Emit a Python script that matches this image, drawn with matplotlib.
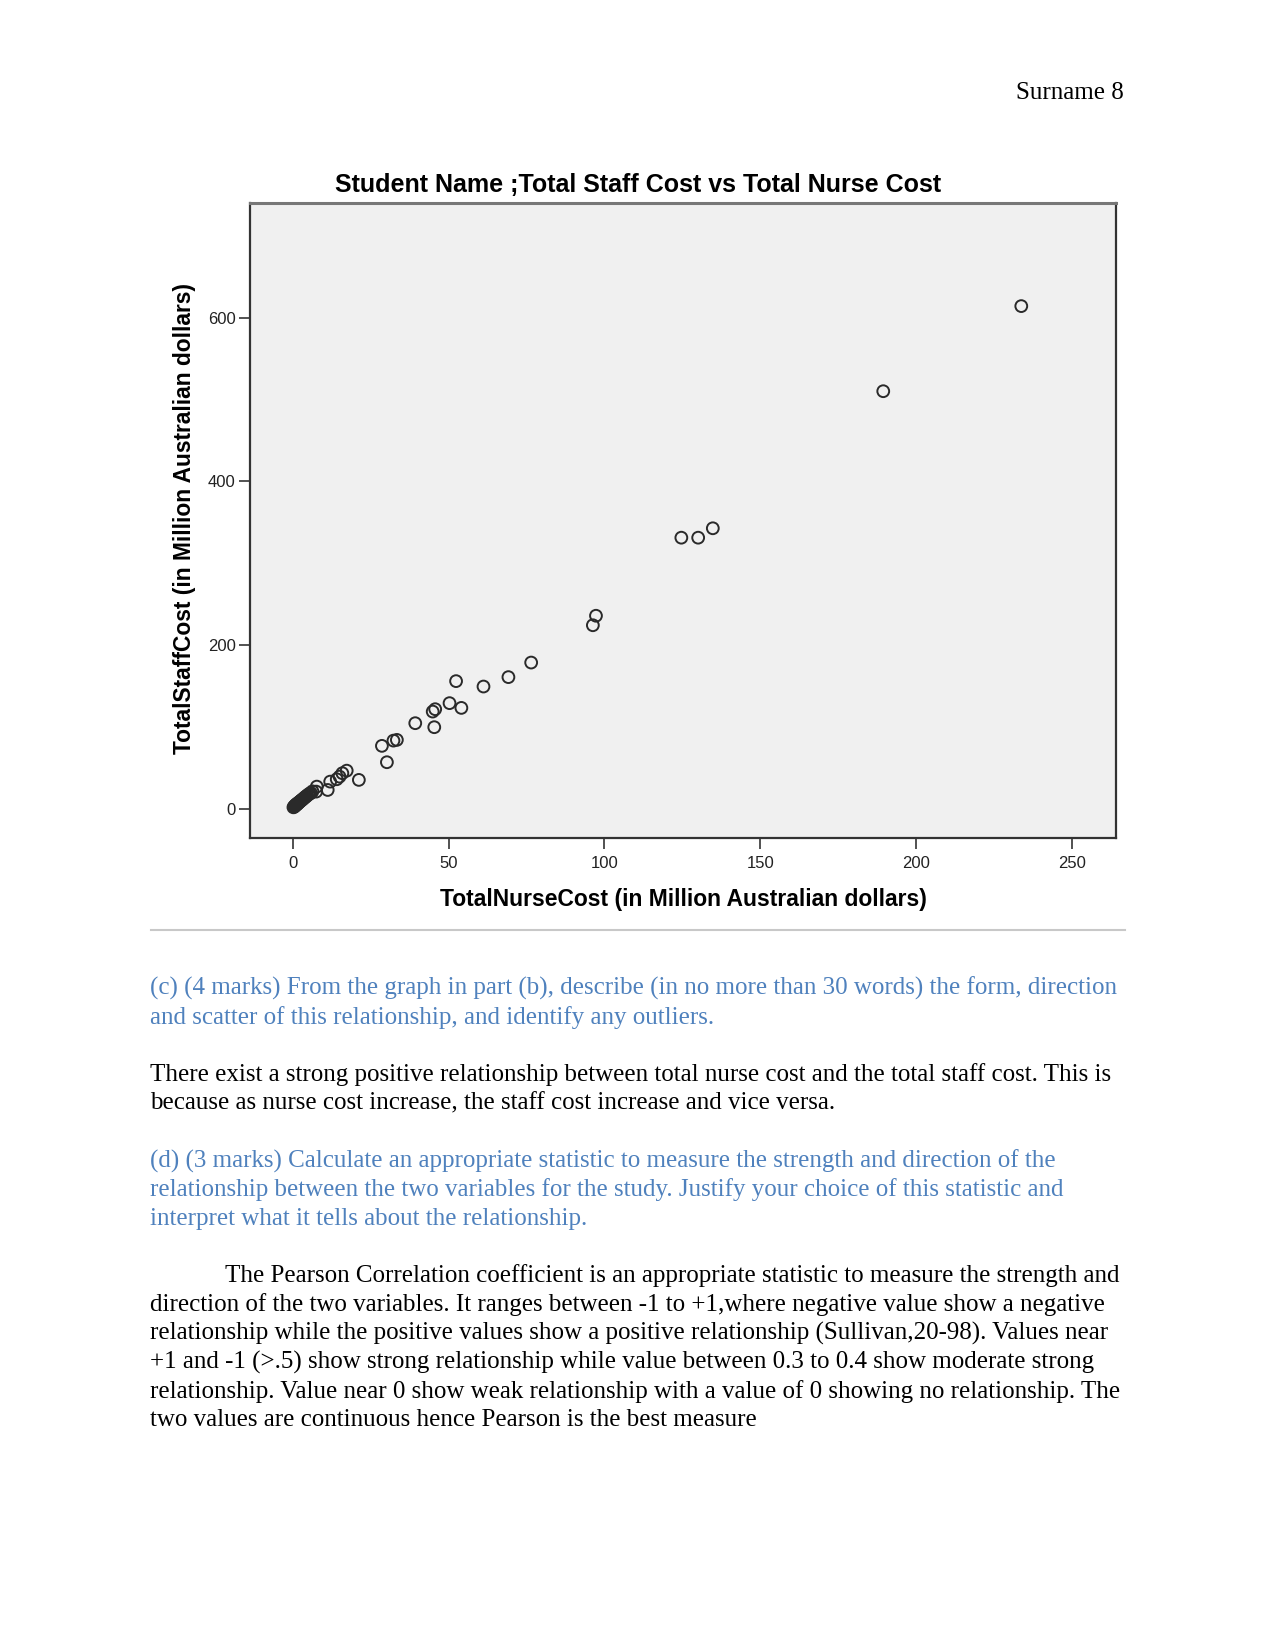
import matplotlib
matplotlib.use("Agg")
import matplotlib.pyplot as plt

# TotalNurseCost vs TotalStaffCost (million AUD)
nurse_cost = [
    0.2, 0.4, 0.5, 0.7, 0.8, 1.0, 1.1, 1.3, 1.5, 1.6, 1.8, 2.0, 2.2, 2.4, 2.6,
    2.9, 3.1, 3.4, 3.7, 4.0, 4.3, 4.6, 5.0, 5.4, 5.8, 6.3,
    7.5, 7.7, 11.2, 12.0, 14.1, 15.0, 15.9, 17.3, 21.2,
    28.6, 30.2, 32.3, 33.4, 39.3, 45.4, 44.9, 45.7, 50.3, 54.1, 52.4, 61.2, 69.2, 76.5,
    96.3, 97.3, 124.7, 130.1, 134.8, 189.5, 233.8,
]
staff_cost = [
    1.5, 2.0, 2.8, 3.0, 4.1, 4.0, 5.2, 5.0, 6.3, 5.9, 7.0, 7.8, 8.1, 9.0, 9.5,
    10.6, 11.0, 12.1, 13.0, 14.2, 14.8, 16.0, 17.1, 18.3, 19.0, 21.0,
    20.7, 26.8, 22.7, 32.9, 35.8, 39.0, 43.2, 46.3, 35.0,
    76.6, 56.6, 83.0, 83.9, 104.3, 99.4, 118.5, 121.4, 128.8, 123.0, 155.7, 149.1, 160.6, 178.4,
    224.0, 235.6, 331.0, 331.0, 342.5, 510.0, 614.0,
]
x_ticks = [0, 50, 100, 150, 200, 250]
y_ticks = [0, 200, 400, 600]

question_c = [
    "(c) (4 marks) From the graph in part (b), describe (in no more than 30 words) the form, direction",
    "and scatter of this relationship, and identify any outliers.",
]
answer_c = [
    "There exist a strong positive relationship between total nurse cost and the total staff cost. This is",
    "because as nurse cost increase, the staff cost increase and vice versa.",
]
question_d = [
    "(d) (3 marks) Calculate an appropriate statistic to measure the strength and direction of the",
    "relationship between the two variables for the study. Justify your choice of this statistic and",
    "interpret what it tells about the relationship.",
]
answer_d = [
    "The Pearson Correlation coefficient is an appropriate statistic to measure the strength and",
    "direction of the two variables. It ranges between -1 to +1,where negative value show a negative",
    "relationship while the positive values show a positive relationship (Sullivan,20-98). Values near",
    "+1 and -1 (>.5) show strong relationship while value between 0.3 to 0.4 show moderate strong",
    "relationship. Value near 0 show weak relationship with a value of 0 showing no relationship. The",
    "two values are continuous hence Pearson is the best measure",
]

W, H = 1275, 1651
fig = plt.figure(figsize=(W / 100, H / 100), dpi=100)


def fx(px):
    return px / W


def fy(py):
    return 1 - py / H


serif = "Liberation Serif"
sans = "Liberation Sans"
blue = "#4f81bd"

fig.text(fx(1124), fy(93), "Surname 8", ha="right", va="center", family=serif, fontsize=18)

# chart
ax = fig.add_axes([fx(249.5), fy(838), fx(1116) - fx(249.5), fy(203) - fy(838)])
ax.set_facecolor("#f0f0f0")
ax.scatter(nurse_cost, staff_cost, s=72, facecolors="none", edgecolors="#2a2a2a", linewidths=1.4, zorder=3)
ax.set_xlim(-13.9, 264.2)
ax.set_ylim(-36, 740)
ax.set_xticks(x_ticks)
ax.set_yticks(y_ticks)
ax.tick_params(direction="out", length=8, width=1.2, color="#333333", labelsize=12, labelcolor="#222222")
ax.tick_params(axis="x", pad=5)
ax.tick_params(axis="y", pad=2)
for lab in ax.get_xticklabels() + ax.get_yticklabels():
    lab.set_family(sans)
for side in ["left", "bottom", "right"]:
    ax.spines[side].set_color("#333333")
    ax.spines[side].set_linewidth(1.6)
ax.spines["top"].set_color("#777777")
ax.spines["top"].set_linewidth(2.2)

fig.text(fx(638), fy(185), "Student Name ;Total Staff Cost vs Total Nurse Cost",
         ha="center", va="center", family=sans, fontweight="bold", fontsize=18)
fig.text(fx(683), fy(899), "TotalNurseCost (in Million Australian dollars)",
         ha="center", va="center", family=sans, fontweight="bold", fontsize=16.5)
fig.text(fx(184), fy(519), "TotalStaffCost (in Million Australian dollars)",
         ha="center", va="center", rotation=90, family=sans, fontweight="bold", fontsize=16.4)

# separator line
fig.add_artist(plt.Line2D([fx(150.5), fx(1124.5)], [fy(929.6), fy(929.6)], color="#c8c8c8", linewidth=1.5))

# body text
left = 150.5
line_h = 28.8
blocks = [
    (question_c, 988.5, blue, left),
    (answer_c, 1075, "black", left),
    (question_d, 1161, blue, left),
]
for lines, y0, col, x0 in blocks:
    for i, t in enumerate(lines):
        fig.text(fx(x0), fy(y0 + i * line_h), t, ha="left", va="center", family=serif, fontsize=18, color=col)

y0 = 1276
for i, t in enumerate(answer_d):
    x0 = 225 if i == 0 else left
    fig.text(fx(x0), fy(y0 + i * line_h), t, ha="left", va="center", family=serif, fontsize=18, color="black")

fig.savefig("out.png", dpi=100, facecolor="white")
